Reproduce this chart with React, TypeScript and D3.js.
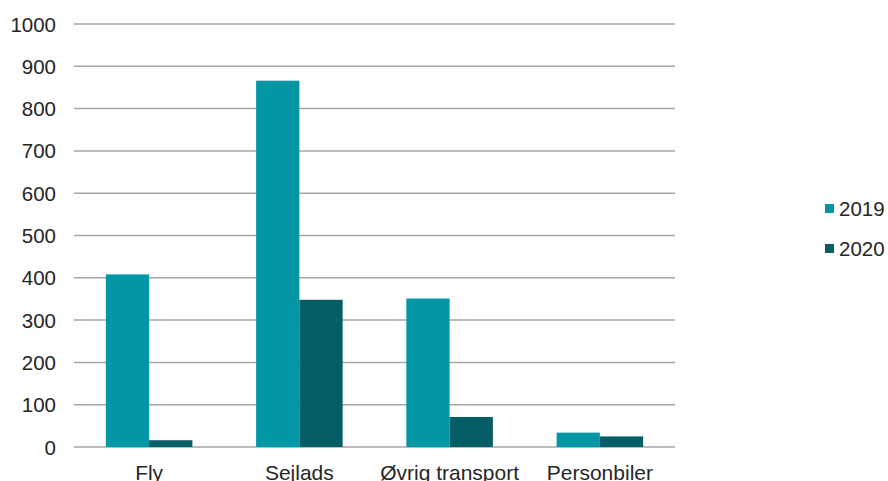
import React from "react";
import * as d3 from "d3";

const categories = ["Fly", "Sejlads", "Øvrig transport", "Personbiler"];
const seriesNames = ["2019", "2020"];
const values2019 = [408, 866, 351, 34];
const values2020 = [16, 348, 71, 25];
const yTicks = [0, 100, 200, 300, 400, 500, 600, 700, 800, 900, 1000];
const colors = ["#0396A4", "#055E65"];

const W = 888;
const H = 481;
const margin = { left: 74, right: 213, top: 24, bottom: 34 };

export default function App() {
  const x0 = d3
    .scaleBand<string>()
    .domain(categories)
    .range([margin.left, W - margin.right])
    .paddingInner(0.424)
    .paddingOuter(0.212);
  const x1 = d3.scaleBand<string>().domain(seriesNames).range([0, x0.bandwidth()]);
  const y = d3.scaleLinear().domain([0, 1000]).range([H - margin.bottom, margin.top]);
  const series = [values2019, values2020];
  const font = "Liberation Sans, Arial, sans-serif";

  return (
    <svg
      width={W}
      height={H}
      style={{ position: "absolute", left: 0, top: 0, background: "#fff" }}
      fontFamily={font}
    >
      {yTicks.map((t) => (
        <g key={t}>
          <line
            x1={margin.left}
            x2={W - margin.right}
            y1={y(t)}
            y2={y(t)}
            stroke="#A6A6A6"
            strokeWidth={1.5}
          />
          <text x={56} y={y(t) + 7.5} textAnchor="end" fontSize={20.5} fill="#262626">
            {t}
          </text>
        </g>
      ))}
      {categories.map((c, i) => (
        <g key={c}>
          {series.map((vals, s) => (
            <rect
              key={s}
              x={(x0(c) ?? 0) + (x1(seriesNames[s]) ?? 0)}
              y={y(vals[i])}
              width={x1.bandwidth()}
              height={y(0) - y(vals[i])}
              fill={colors[s]}
            />
          ))}
          <text
            x={(x0(c) ?? 0) + x0.bandwidth() / 2}
            y={479.5}
            textAnchor="middle"
            fontSize={21}
            fill="#262626"
          >
            {c}
          </text>
        </g>
      ))}
      {seriesNames.map((n, s) => (
        <g key={n} transform={`translate(825, ${209 + s * 40})`}>
          <rect x={0} y={-5} width={9} height={9} fill={colors[s]} />
          <text x={14} y={7} fontSize={20.5} fill="#262626">
            {n}
          </text>
        </g>
      ))}
    </svg>
  );
}
